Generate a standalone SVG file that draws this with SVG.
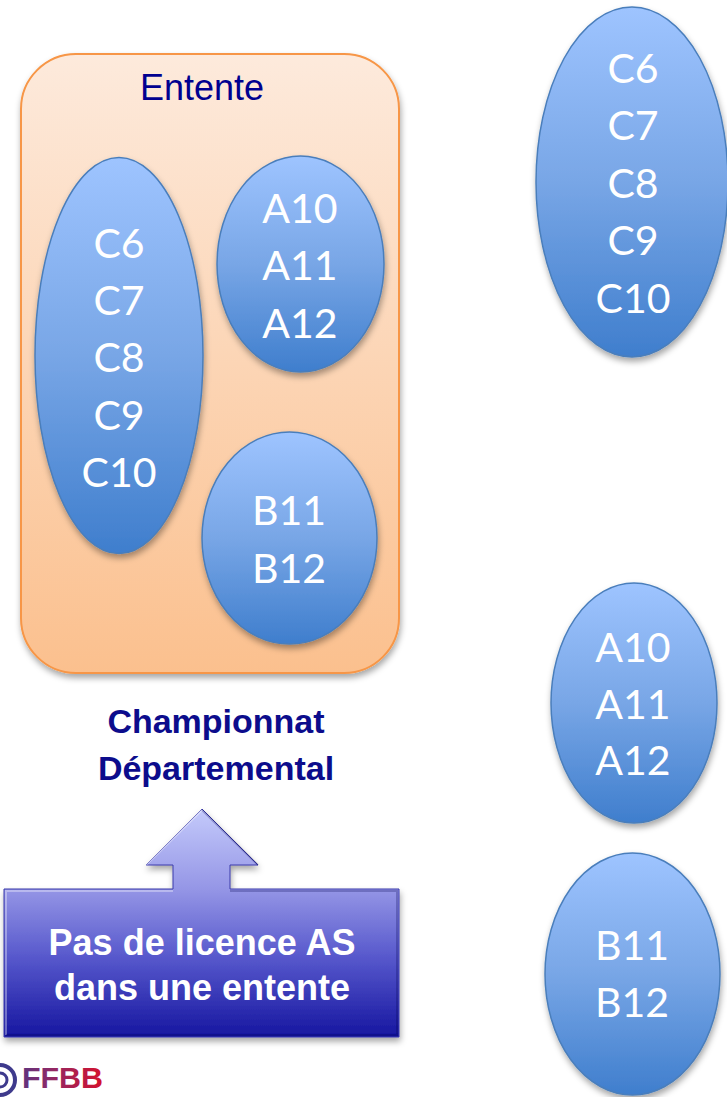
<svg xmlns="http://www.w3.org/2000/svg" width="727" height="1097" viewBox="0 0 727 1097">
<defs>
<linearGradient id="gBlue" x1="0" y1="0" x2="0" y2="1">
<stop offset="0" stop-color="#9EC4FF"/>
<stop offset="0.5" stop-color="#78A6E6"/>
<stop offset="1" stop-color="#3F7ECD"/>
</linearGradient>
<linearGradient id="gOrange" x1="0" y1="0" x2="0" y2="1">
<stop offset="0" stop-color="#FDEADC"/>
<stop offset="1" stop-color="#FBC08E"/>
</linearGradient>
<linearGradient id="gCallout" gradientUnits="userSpaceOnUse" x1="0" y1="809" x2="0" y2="1037">
<stop offset="0" stop-color="#C4CAFB"/>
<stop offset="0.35" stop-color="#9596E6"/>
<stop offset="0.65" stop-color="#5758CC"/>
<stop offset="1" stop-color="#1616A0"/>
</linearGradient>
<linearGradient id="gLogo" gradientUnits="userSpaceOnUse" x1="0" y1="0" x2="105" y2="0">
<stop offset="0" stop-color="#3A3A8E"/>
<stop offset="0.45" stop-color="#8A2A6A"/>
<stop offset="1" stop-color="#D8102A"/>
</linearGradient>
<filter id="shadow" x="-20%" y="-20%" width="140%" height="140%">
<feDropShadow dx="1" dy="4" stdDeviation="3" flood-color="#000" flood-opacity="0.35"/>
</filter>
<style>
.ell{fill:url(#gBlue);stroke:#4A7EBB;stroke-width:1.5;filter:url(#shadow)}
.lbl{font-family:Lato,"Liberation Sans",sans-serif;font-size:41px;fill:#FFFFFF;text-anchor:middle}
.bold{font-family:"Liberation Sans",Arial,sans-serif;font-weight:bold;text-anchor:middle}
</style>
</defs>
<rect width="727" height="1097" fill="#FFFFFF"/>

<g id="entente">
<rect x="21" y="54" width="378" height="619" rx="55" ry="55" fill="url(#gOrange)" stroke="#F79646" stroke-width="2" filter="url(#shadow)"/>
<text x="202" y="100" font-family="Liberation Sans,Arial,sans-serif" font-size="36" fill="#000090" text-anchor="middle">Entente</text>
</g>

<g id="entente-c">
<ellipse class="ell" cx="119" cy="355.5" rx="84" ry="198"/>
<text class="lbl" x="119" y="258">C6</text>
<text class="lbl" x="119" y="315">C7</text>
<text class="lbl" x="119" y="372">C8</text>
<text class="lbl" x="119" y="430">C9</text>
<text class="lbl" x="119" y="487">C10</text>
</g>

<g id="entente-a">
<ellipse class="ell" cx="300.5" cy="264" rx="83.5" ry="108"/>
<text class="lbl" x="300" y="223">A10</text>
<text class="lbl" x="300" y="280">A11</text>
<text class="lbl" x="300" y="338">A12</text>
</g>

<g id="entente-b">
<ellipse class="ell" cx="289.5" cy="538" rx="87.5" ry="106"/>
<text class="lbl" x="289" y="525">B11</text>
<text class="lbl" x="289" y="583">B12</text>
</g>

<g id="championnat">
<text class="bold" x="216" y="733" font-size="34" fill="#0C0C8C">Championnat</text>
<text class="bold" x="216" y="780" font-size="34" fill="#0C0C8C">Départemental</text>
</g>

<g id="callout">
<path d="M4,889 L173,889 L173,865 L146,865 L202,809 L258,865 L230,865 L230,889 L399,889 L399,1037 L4,1037 Z" fill="url(#gCallout)" stroke="#3A3AAA" stroke-width="1" filter="url(#shadow)"/>
<path d="M6,1035 L6,891 L173,891 M146,865 L202,810" fill="none" stroke="#FFFFFF" stroke-opacity="0.35" stroke-width="2"/>
<path d="M202,810 L258,865 M230,891 L397,891 L397,1035 L6,1035" fill="none" stroke="#000050" stroke-opacity="0.25" stroke-width="2"/>
<text class="bold" x="202" y="955" font-size="36" fill="#FFFFFF">Pas de licence AS</text>
<text class="bold" x="202" y="1000" font-size="36" fill="#FFFFFF">dans une entente</text>
</g>

<g id="right-c">
<ellipse class="ell" cx="632" cy="182" rx="96" ry="175"/>
<text class="lbl" x="633" y="83">C6</text>
<text class="lbl" x="633" y="140">C7</text>
<text class="lbl" x="633" y="198">C8</text>
<text class="lbl" x="633" y="255">C9</text>
<text class="lbl" x="633" y="313">C10</text>
</g>

<g id="right-a">
<ellipse class="ell" cx="634" cy="703" rx="83" ry="120"/>
<text class="lbl" x="633" y="662">A10</text>
<text class="lbl" x="633" y="719">A11</text>
<text class="lbl" x="633" y="775">A12</text>
</g>

<g id="right-b">
<ellipse class="ell" cx="632.5" cy="974" rx="87.5" ry="121"/>
<text class="lbl" x="632" y="960">B11</text>
<text class="lbl" x="632" y="1017">B12</text>
</g>

<g id="connectors"></g>

<g id="logo">
<circle cx="0" cy="1080" r="15" fill="none" stroke="#3E3A8C" stroke-width="4"/>
<circle cx="0" cy="1080" r="7" fill="none" stroke="#3E3A8C" stroke-width="3"/>
<text x="22" y="1088" font-family="Liberation Sans,Arial,sans-serif" font-weight="bold" font-size="30" textLength="81" lengthAdjust="spacingAndGlyphs" fill="url(#gLogo)">FFBB</text>
</g>
</svg>
